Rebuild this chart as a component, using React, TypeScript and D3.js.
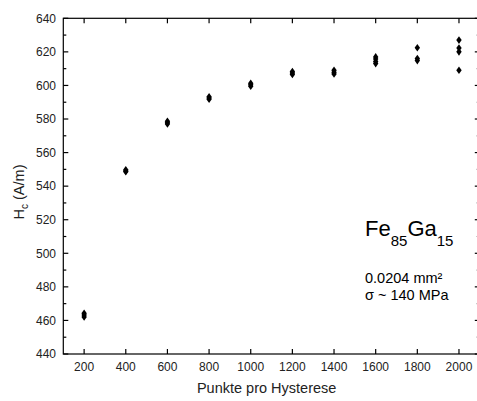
import React from "react";
import * as d3 from "d3";

const pointsX: number[] = [200, 400, 600, 800, 1000, 1200, 1400, 1600, 1800, 2000];
const pointsY: number[][] = [
  [462, 463.2, 464.3],
  [548.6, 549.1, 549.7],
  [577, 577.8, 578.6],
  [591.8, 592.5, 593.2],
  [599.5, 600.4, 601.3],
  [606.5, 607.4, 608.3],
  [606.8, 607.9, 609],
  [613, 614.3, 615.8, 617],
  [614.8, 616, 622.5],
  [609, 620, 622.3, 627],
];
const xTicks: number[] = [200, 400, 600, 800, 1000, 1200, 1400, 1600, 1800, 2000];
const yTicks: number[] = [440, 460, 480, 500, 520, 540, 560, 580, 600, 620, 640];
const yMinor: number[] = [450, 470, 490, 510, 530, 550, 570, 590, 610, 630];

const W = 477;
const H = 401;
const left = 63.3;
const right = 479.8;
const top = 18.3;
const bottom = 354;

export default function App() {
  const x = d3.scaleLinear().domain([100, 2100]).range([left, right]);
  const y = d3.scaleLinear().domain([440, 640]).range([bottom, top]);
  const diamond = d3.symbol().type(d3.symbolDiamond).size(15)() as string;
  const font = "'Liberation Sans', Arial, sans-serif";
  const stroke = "#000";
  const sw = 1.2;

  const pts: { x: number; y: number }[] = [];
  pointsX.forEach((px, i) => pointsY[i].forEach((py) => pts.push({ x: px, y: py })));

  return (
    <svg width={W} height={H} style={{ position: "absolute", left: 0, top: 0, background: "#fff" }} fontFamily={font}>
      <rect x={0} y={0} width={W} height={H} fill="#fff" />
      <rect x={left} y={top} width={right - left} height={bottom - top} fill="none" stroke={stroke} strokeWidth={sw} />
      {xTicks.map((t) => (
        <g key={"xt" + t}>
          <line x1={x(t)} x2={x(t)} y1={bottom} y2={bottom - 5} stroke={stroke} strokeWidth={sw} />
          <line x1={x(t)} x2={x(t)} y1={top} y2={top + 5} stroke={stroke} strokeWidth={sw} />
          <text x={x(t)} y={371} fontSize={12} textAnchor="middle" fill="#222">{t}</text>
        </g>
      ))}
      {yTicks.map((t) => (
        <g key={"yt" + t}>
          <line x1={left} x2={left + 5} y1={y(t)} y2={y(t)} stroke={stroke} strokeWidth={sw} />
          <line x1={right} x2={right - 5} y1={y(t)} y2={y(t)} stroke={stroke} strokeWidth={sw} />
          <text x={56} y={y(t) + 4.3} fontSize={12} textAnchor="end" fill="#222">{t}</text>
        </g>
      ))}
      {yMinor.map((t) => (
        <g key={"ym" + t}>
          <line x1={left} x2={left + 3} y1={y(t)} y2={y(t)} stroke={stroke} strokeWidth={sw} />
          <line x1={right} x2={right - 3} y1={y(t)} y2={y(t)} stroke={stroke} strokeWidth={sw} />
        </g>
      ))}
      {pts.map((p, i) => (
        <path key={i} d={diamond} transform={`translate(${x(p.x)},${y(p.y)}) scale(1.3,1.05)`} fill="#000" />
      ))}
      <text x={(left + 458) / 2 + 6} y={393} fontSize={14.5} textAnchor="middle" fill="#222">Punkte pro Hysterese</text>
      <text transform={`translate(24,${192}) rotate(-90)`} fontSize={14.5} textAnchor="middle" fill="#222">
        H<tspan fontSize={10} dy={4}>c</tspan><tspan dy={-4}> (A/m)</tspan>
      </text>
      <text x={365} y={236} fontSize={22} fill="#000">
        Fe<tspan fontSize={15} dy={10}>85</tspan><tspan dy={-10}>Ga</tspan><tspan fontSize={15} dy={10}>15</tspan>
      </text>
      <text x={365} y={283} fontSize={14.5} fill="#000">0.0204 mm²</text>
      <text x={365} y={300} fontSize={14.5} fill="#000">σ ~ 140 MPa</text>
    </svg>
  );
}
